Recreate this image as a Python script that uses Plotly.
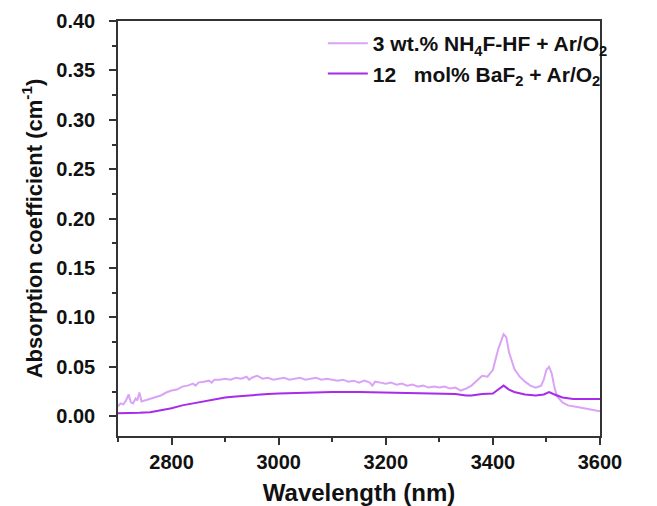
import plotly.graph_objects as go

# Light series: 3 wt.% NH4F-HF + Ar/O2
wl_a = [2700, 2705, 2710, 2715, 2720, 2724, 2728, 2733, 2736, 2740, 2744, 2750, 2760, 2770, 2780,
        2790, 2800, 2810, 2820, 2830, 2840, 2845, 2850, 2860, 2870, 2875, 2880, 2890, 2900, 2910,
        2920, 2930, 2940, 2945, 2950, 2960, 2970, 2980, 2990, 3000, 3010, 3020, 3030, 3040, 3050,
        3060, 3070, 3080, 3090, 3100, 3110, 3120, 3130, 3140, 3150, 3160, 3170, 3175, 3180, 3190,
        3200, 3210, 3220, 3230, 3240, 3250, 3260, 3270, 3280, 3290, 3300, 3310, 3320, 3330, 3340,
        3345, 3350, 3360, 3370, 3380, 3390, 3400, 3410, 3420, 3425, 3430, 3440, 3450, 3460, 3470,
        3480, 3490, 3495, 3500, 3505, 3510, 3515, 3520, 3530, 3540, 3560, 3580, 3600]
abs_a = [0.010, 0.013, 0.012, 0.016, 0.022, 0.014, 0.013, 0.018, 0.016, 0.024, 0.015, 0.016, 0.017, 0.019, 0.021,
         0.024, 0.026, 0.027, 0.030, 0.031, 0.033, 0.031, 0.034, 0.035, 0.036, 0.034, 0.037, 0.037, 0.038, 0.037,
         0.039, 0.038, 0.040, 0.037, 0.039, 0.041, 0.038, 0.039, 0.037, 0.038, 0.039, 0.037, 0.038, 0.039, 0.037,
         0.038, 0.039, 0.037, 0.038, 0.037, 0.036, 0.037, 0.035, 0.036, 0.034, 0.036, 0.034, 0.031, 0.035, 0.034,
         0.033, 0.034, 0.032, 0.033, 0.031, 0.032, 0.030, 0.031, 0.029, 0.030, 0.029, 0.030, 0.028, 0.029, 0.026,
         0.027, 0.028, 0.031, 0.036, 0.041, 0.040, 0.047, 0.068, 0.083, 0.080, 0.065, 0.048, 0.040, 0.035, 0.031,
         0.029, 0.031, 0.037, 0.047, 0.050, 0.043, 0.029, 0.020, 0.014, 0.011, 0.009, 0.007, 0.005]

# Dark series: 12 mol% BaF2 + Ar/O2
wl_b = [2700, 2720, 2740, 2760, 2780, 2800, 2820, 2840, 2860, 2880, 2900, 2920, 2950, 2980, 3000,
        3050, 3100, 3150, 3200, 3250, 3300, 3330, 3350, 3360, 3380, 3400, 3410, 3420, 3430, 3440,
        3460, 3480, 3495, 3505, 3515, 3530, 3550, 3600]
abs_b = [0.003, 0.003, 0.0035, 0.004, 0.006, 0.008, 0.011, 0.013, 0.0155, 0.0175, 0.019, 0.020, 0.0215, 0.0225, 0.023,
         0.024, 0.0245, 0.0245, 0.024, 0.0235, 0.023, 0.0225, 0.021, 0.021, 0.0225, 0.023, 0.027, 0.031, 0.027, 0.0245,
         0.022, 0.021, 0.022, 0.0245, 0.022, 0.019, 0.0175, 0.0175]

name_a = "3 wt.% NH<sub>4</sub>F-HF + Ar/O<sub>2</sub>"
name_b = "12\u00a0\u00a0 mol% BaF<sub>2</sub> + Ar/O<sub>2</sub>"

y_ticks = [0.0, 0.05, 0.10, 0.15, 0.20, 0.25, 0.30, 0.35, 0.40]
x_ticks = [2800, 3000, 3200, 3400, 3600]

fig = go.Figure()
fig.add_trace(go.Scatter(x=wl_a, y=abs_a, mode="lines", name=name_a,
                         line=dict(color="#DAA3F5", width=2), legendgroup="a"))
fig.add_trace(go.Scatter(x=wl_b, y=abs_b, mode="lines", name=name_b,
                         line=dict(color="#A62BEA", width=2), legendgroup="b"))

fam = "Liberation Sans"
axis_common = dict(showline=True, linecolor="#333333", linewidth=1.5, mirror=True,
                   ticks="outside", ticklen=7, tickwidth=1.5, tickcolor="#333333",
                   showgrid=False, zeroline=False, ticklabeloverflow="allow",
                   tickfont=dict(family=fam, size=20, color="#111111", weight="bold"))

fig.update_xaxes(range=[2700, 3600], tickvals=x_ticks,
                 title=dict(text="Wavelength (nm)",
                            font=dict(family=fam, size=24, color="#111111", weight="bold"),
                            standoff=12),
                 minor=dict(dtick=100, ticks="outside", ticklen=4, tickcolor="#333333", tickwidth=1.5),
                 **axis_common)
fig.update_yaxes(range=[-0.02, 0.40], tickvals=y_ticks, tickformat=".2f",
                 ticklabelstandoff=10,
                 title=dict(text="Absorption coefficient (cm<sup>-1</sup>)",
                            font=dict(family=fam, size=22, color="#111111", weight="bold"), standoff=8),
                 minor=dict(dtick=0.025, tick0=0, ticks="outside", ticklen=4, tickcolor="#333333", tickwidth=1.5),
                 **axis_common)

fig.update_layout(
    width=657, height=506,
    margin=dict(l=110, r=65, t=2, b=78),
    plot_bgcolor="white", paper_bgcolor="white",
    font=dict(family=fam, color="#111111"),
    legend=dict(x=0.425, y=0.995, xanchor="left", yanchor="top",
                font=dict(family=fam, size=21, color="#111111", weight="bold"),
                bgcolor="rgba(0,0,0,0)", tracegroupgap=0, itemwidth=40),
)

fig.write_html("out.html")
